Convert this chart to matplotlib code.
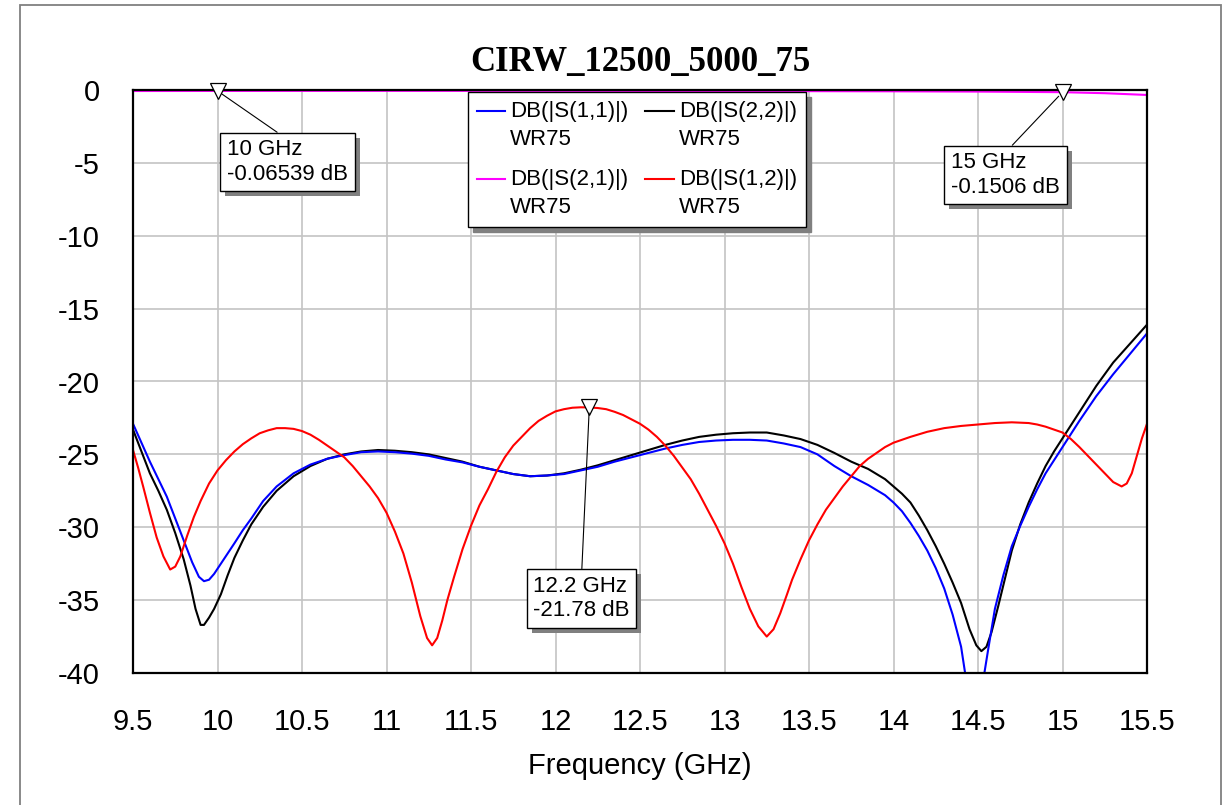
import numpy as np
import matplotlib
matplotlib.use("Agg")
import matplotlib.pyplot as plt
import matplotlib.patheffects as pe
from matplotlib.legend_handler import HandlerLine2D
from matplotlib.lines import Line2D
from matplotlib.patches import Rectangle

plt.rcParams["font.family"] = ["Liberation Sans", "DejaVu Sans"]
plt.rcParams["axes.unicode_minus"] = False

TITLE = "CIRW_12500_5000_75"

# S(1,1) - blue
s11_f = [9.5, 9.55, 9.6, 9.65, 9.7, 9.75, 9.8, 9.85, 9.89, 9.92, 9.95, 9.98, 10.02, 10.06,
         10.1, 10.15, 10.2, 10.27, 10.35, 10.45, 10.55, 10.65, 10.75, 10.85, 10.95, 11.05,
         11.15, 11.25, 11.35, 11.45, 11.55, 11.65, 11.75, 11.85, 11.95, 12.05, 12.15, 12.25,
         12.35, 12.45, 12.55, 12.65, 12.75, 12.85, 12.95, 13.05, 13.15, 13.25, 13.35, 13.45,
         13.55, 13.65, 13.75, 13.85, 13.95, 14.0, 14.05, 14.1, 14.15, 14.2, 14.25, 14.3, 14.35,
         14.4, 14.45, 14.47, 14.5, 14.52, 14.535, 14.56, 14.6, 14.65, 14.7, 14.75, 14.8, 14.85,
         14.9, 14.95, 15.0, 15.1, 15.2, 15.3, 15.4, 15.5]
s11_db = [-22.9, -24.2, -25.5, -26.7, -27.9, -29.4, -30.9, -32.4, -33.4, -33.7, -33.6, -33.2, -32.5, -31.8,
          -31.1, -30.2, -29.4, -28.2, -27.2, -26.3, -25.7, -25.3, -25.05, -24.85, -24.8, -24.85,
          -24.95, -25.1, -25.35, -25.55, -25.85, -26.1, -26.35, -26.5, -26.45, -26.35, -26.1, -25.85,
          -25.5, -25.2, -24.9, -24.6, -24.35, -24.15, -24.05, -24.0, -24.0, -24.05, -24.25, -24.5,
          -25.0, -25.8, -26.5, -27.1, -27.8, -28.3, -28.9, -29.7, -30.6, -31.6, -32.8, -34.2, -36.0,
          -38.2, -42.0, -45.0, -46.0, -42.0, -40.2, -38.4, -35.6, -33.3, -31.3, -29.9, -28.6, -27.4,
          -26.3, -25.4, -24.5, -22.7, -21.0, -19.5, -18.1, -16.7]

# S(2,2) - black
s22_f = [9.5, 9.55, 9.6, 9.65, 9.7, 9.75, 9.8, 9.84, 9.87, 9.9, 9.92, 9.95, 9.98, 10.02, 10.06,
         10.1, 10.15, 10.2, 10.27, 10.35, 10.45, 10.55, 10.65, 10.75, 10.85, 10.95, 11.05,
         11.15, 11.25, 11.35, 11.45, 11.55, 11.65, 11.75, 11.85, 11.95, 12.05, 12.15, 12.25,
         12.35, 12.45, 12.55, 12.65, 12.75, 12.85, 12.95, 13.05, 13.15, 13.25, 13.35, 13.45,
         13.55, 13.65, 13.75, 13.85, 13.95, 14.0, 14.05, 14.1, 14.15, 14.2, 14.25, 14.3, 14.35,
         14.4, 14.45, 14.49, 14.52, 14.55, 14.58, 14.62, 14.66, 14.7, 14.75, 14.8, 14.85, 14.9,
         14.95, 15.0, 15.1, 15.2, 15.3, 15.4, 15.5]
s22_db = [-23.3, -24.8, -26.3, -27.5, -28.8, -30.4, -32.2, -34.0, -35.6, -36.7, -36.7, -36.2, -35.6, -34.6, -33.3,
          -32.1, -30.9, -29.8, -28.6, -27.5, -26.5, -25.8, -25.3, -25.0, -24.8, -24.7, -24.75,
          -24.85, -25.0, -25.25, -25.5, -25.85, -26.1, -26.35, -26.5, -26.45, -26.3, -26.05, -25.75,
          -25.4, -25.05, -24.7, -24.35, -24.05, -23.8, -23.65, -23.55, -23.5, -23.5, -23.7, -23.95,
          -24.35, -24.9, -25.5, -26.0, -26.7, -27.2, -27.7, -28.3, -29.2, -30.2, -31.3, -32.5, -33.8,
          -35.2, -37.0, -38.1, -38.5, -38.2, -37.2, -35.4, -33.5, -31.6, -29.8, -28.3, -27.0, -25.8,
          -24.8, -23.9, -22.1, -20.3, -18.7, -17.4, -16.1]

# S(2,1) - magenta
s21_f = [9.5, 10.0, 11.0, 12.0, 13.0, 14.0, 14.5, 15.0, 15.25, 15.5]
s21_db = [-0.07, -0.065, -0.06, -0.06, -0.07, -0.09, -0.11, -0.15, -0.22, -0.34]

# S(1,2) - red
s12_f = [9.5, 9.53, 9.56, 9.6, 9.64, 9.68, 9.72, 9.75, 9.78, 9.82, 9.86, 9.9, 9.95,
         10.0, 10.05, 10.1, 10.15, 10.2, 10.25, 10.3, 10.35, 10.4, 10.45, 10.5, 10.55, 10.6,
         10.65, 10.7, 10.75, 10.8, 10.85, 10.9, 10.95, 11.0, 11.05, 11.1, 11.15, 11.2, 11.24,
         11.27, 11.3, 11.33, 11.36, 11.4, 11.45, 11.5, 11.55, 11.6, 11.65, 11.7, 11.75, 11.8,
         11.85, 11.9, 11.95, 12.0, 12.05, 12.1, 12.15, 12.2, 12.25, 12.3, 12.35, 12.4, 12.45,
         12.5, 12.55, 12.6, 12.65, 12.7, 12.75, 12.8, 12.85, 12.9, 12.95, 13.0, 13.05, 13.1,
         13.15, 13.2, 13.25, 13.29, 13.33, 13.37, 13.4, 13.45, 13.5, 13.55, 13.6, 13.65, 13.7,
         13.75, 13.8, 13.85, 13.9, 13.95, 14.0, 14.1, 14.2, 14.3, 14.4, 14.5, 14.6, 14.7, 14.8,
         14.85, 14.9, 14.95, 15.0, 15.05, 15.1, 15.15, 15.2, 15.25, 15.3, 15.35, 15.38, 15.41,
         15.44, 15.47, 15.5]
s12_db = [-24.7, -25.9, -27.2, -29.0, -30.7, -32.0, -32.9, -32.7, -32.0, -30.6, -29.3, -28.2, -27.0,
          -26.1, -25.4, -24.8, -24.3, -23.9, -23.55, -23.35, -23.2, -23.2, -23.25, -23.4, -23.65, -24.0,
          -24.4, -24.8, -25.2, -25.8, -26.5, -27.2, -28.0, -29.0, -30.3, -31.8, -33.8, -36.1, -37.6,
          -38.1, -37.6, -36.4, -35.0, -33.4, -31.5, -29.9, -28.5, -27.4, -26.2, -25.2, -24.4, -23.8,
          -23.2, -22.7, -22.35, -22.05, -21.9, -21.8, -21.77, -21.78, -21.82, -21.9, -22.08, -22.3, -22.6,
          -22.9, -23.3, -23.8, -24.4, -25.1, -25.9, -26.7, -27.7, -28.8, -29.9, -31.1, -32.5, -34.1,
          -35.6, -36.8, -37.5, -37.0, -35.9, -34.6, -33.6, -32.2, -30.9, -29.8, -28.8, -28.0, -27.2,
          -26.5, -25.8, -25.3, -24.9, -24.5, -24.2, -23.8, -23.45, -23.2, -23.05, -22.95, -22.85, -22.8, -22.85,
          -22.95, -23.1, -23.3, -23.5, -23.95, -24.5, -25.1, -25.7, -26.3, -26.9, -27.2, -27.0, -26.3,
          -25.1, -23.9, -22.9]

x_ticks = [9.5, 10, 10.5, 11, 11.5, 12, 12.5, 13, 13.5, 14, 14.5, 15, 15.5]
x_tick_labels = ["9.5", "10", "10.5", "11", "11.5", "12", "12.5", "13", "13.5", "14", "14.5", "15", "15.5"]
y_ticks = [0, -5, -10, -15, -20, -25, -30, -35, -40]
y_tick_labels = ["0", "-5", "-10", "-15", "-20", "-25", "-30", "-35", "-40"]

# marker readouts: (freq, value, box centre freq, box centre dB)
markers = [
    (10.0, -0.06539, 10.414, -4.94),
    (15.0, -0.1506, 14.663, -5.83),
    (12.2, -21.78, 12.154, -34.88),
]


class TopLineHandler(HandlerLine2D):
    """Legend line placed next to the first text line instead of the middle."""

    def create_artists(self, legend, orig_handle, xdescent, ydescent, width,
                       height, fontsize, trans):
        artists = super().create_artists(legend, orig_handle, xdescent, ydescent,
                                         width, height, fontsize, trans)
        for a in artists:
            a.set_ydata(np.asarray(a.get_ydata()) + fontsize * 0.64)
        return artists


fig = plt.figure(figsize=(12.23, 8.05), dpi=100)
ax = fig.add_axes([133 / 1223, 1 - 673 / 805, 1014 / 1223, 583 / 805])

l22, = ax.plot(s22_f, s22_db, color="black", lw=1.5)
l11, = ax.plot(s11_f, s11_db, color="blue", lw=1.5)
l12, = ax.plot(s12_f, s12_db, color="red", lw=1.5)
l21, = ax.plot(s21_f, s21_db, color="magenta", lw=1.5)

ax.set_xlim(9.5, 15.5)
ax.set_ylim(-40, 0)
ax.set_xticks(x_ticks)
ax.set_xticklabels(x_tick_labels)
ax.set_yticks(y_ticks)
ax.set_yticklabels(y_tick_labels)
ax.tick_params(length=0, labelsize=21)
ax.tick_params(axis="y", pad=24)
ax.tick_params(axis="x", pad=25)
ax.grid(True, color="#c4c4c4", lw=1.2)
ax.set_axisbelow(True)
for sp in ax.spines.values():
    sp.set_linewidth(1.6)
    sp.set_color("black")

ax.set_xlabel("Frequency (GHz)", fontsize=21, labelpad=12)
ax.set_title(TITLE, fontsize=25, fontweight="bold", family="Liberation Serif", pad=14)

for f, val, bx, by in markers:
    ax.plot(f, val, marker="v", ms=12, mfc="white", mec="black", mew=0.9,
            ls="none", zorder=6, clip_on=False)
    ann = ax.annotate(f"{f:g} GHz\n{val:g} dB", xy=(f, val), xytext=(bx, by),
                      ha="center", va="center", multialignment="left", fontsize=16,
                      bbox=dict(boxstyle="square,pad=0.3", fc="white", ec="black", lw=1),
                      arrowprops=dict(arrowstyle="-", color="black", lw=0.8,
                                      relpos=(0.5, 1.0), shrinkA=0, shrinkB=4),
                      zorder=7)
    ann.get_bbox_patch().set_path_effects([
        pe.SimplePatchShadow(offset=(3.6, -3.6), shadow_rgbFace="#808080", alpha=1.0),
        pe.Normal(),
    ])

labels = ["DB(|S(1,1)|)\nWR75", "DB(|S(2,1)|)\nWR75", "DB(|S(2,2)|)\nWR75", "DB(|S(1,2)|)\nWR75"]
handles = [l11, l21, l22, l12]
leg = ax.legend(handles, labels, ncol=2, loc="upper left", bbox_to_anchor=(0.330, 0.997),
                borderaxespad=0, fontsize=16, frameon=True, fancybox=False,
                edgecolor="black", framealpha=1, handlelength=1.3, handletextpad=0.22,
                columnspacing=0.75, labelspacing=0.85, borderpad=0.4,
                shadow={"ox": 3.6, "oy": -3.6, "color": "#808080", "alpha": 1.0},
                handler_map={Line2D: TopLineHandler()})
for t in leg.get_texts():
    t.set_linespacing(1.45)
leg.get_frame().set_linewidth(1.0)
leg.set_zorder(8)

# outer page frame
fig.add_artist(Rectangle((20 / 1223, -0.05), 1201 / 1223, 1.05 - 5 / 805,
                         transform=fig.transFigure, fill=False, ec="#808080", lw=1.3))

fig.savefig("out.png", dpi=100)
